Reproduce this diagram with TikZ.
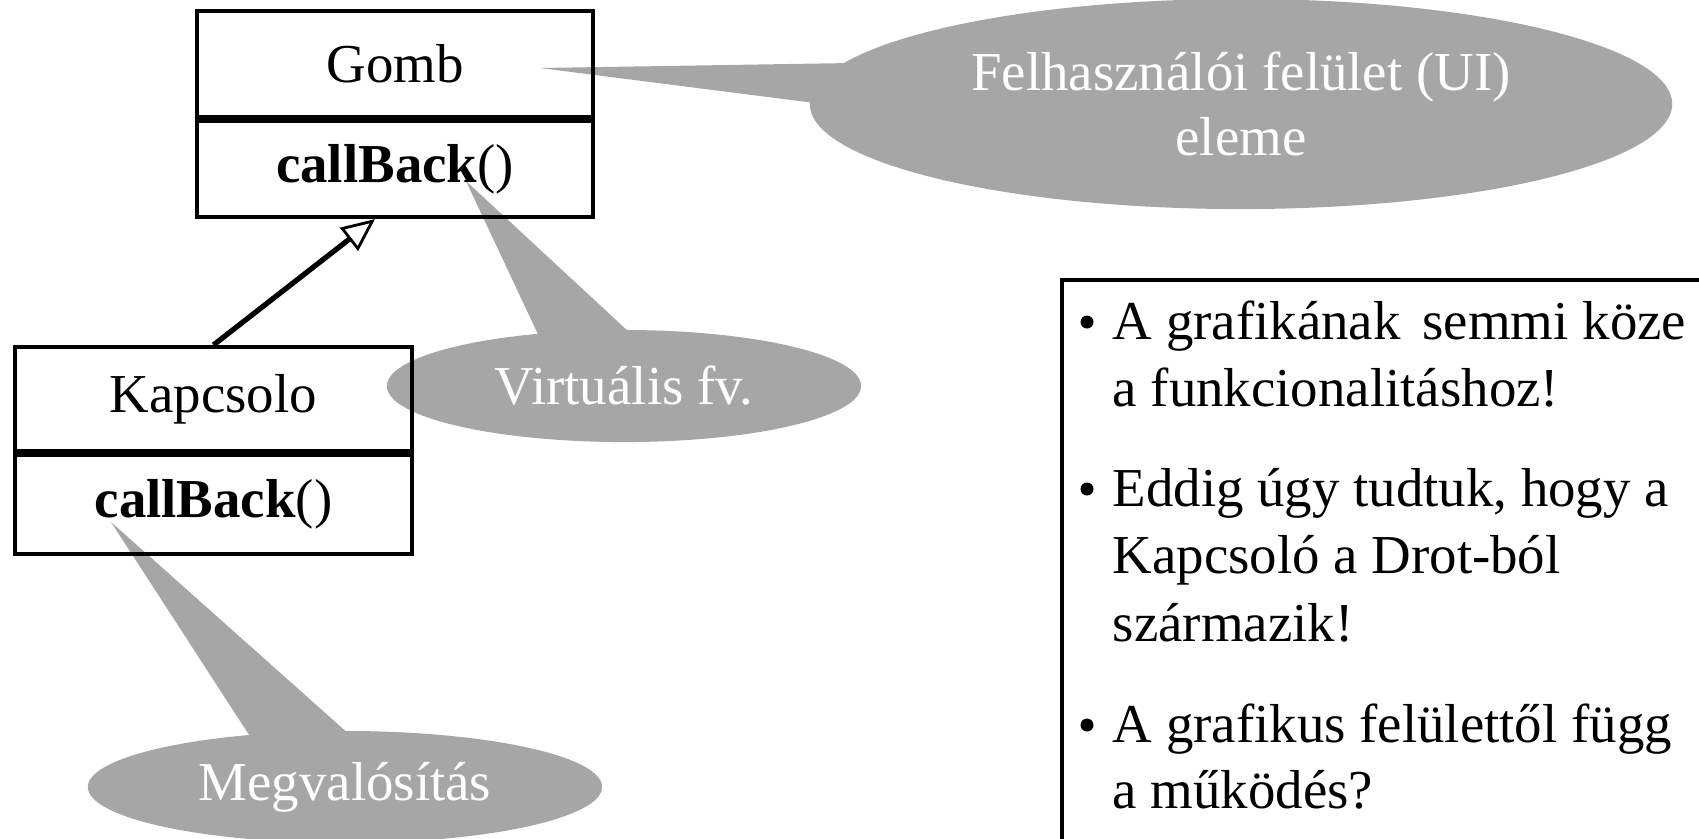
\documentclass[tikz,border=0pt]{standalone}
\usepackage{fontspec}
\setmainfont{Liberation Serif}
\usetikzlibrary{positioning,shapes.callouts,arrows.meta}
\definecolor{bubblegrey}{HTML}{A6A6A6}

\tikzset{
  classbox/.style={draw, line width=1.14pt, minimum width=3.96cm, inner sep=0pt},
  bubble/.style={ellipse callout, fill=bubblegrey, text=white, inner sep=0pt,
    align=center, callout pointer arc=22},
  notetext/.style={anchor=base west, inner sep=0pt},
  notedot/.style={circle, fill=black, inner sep=0pt, minimum size=0.13cm},
  inherits/.style={line width=1.5pt,
    -{Triangle[open, length=0.33cm, width=0.29cm, line width=0.8pt]}},
}

\begin{document}
\begin{tikzpicture}[x=0.01cm, y=-0.01cm, font=\fontsize{15.6}{18.5}\selectfont]

  \useasboundingbox (0,0) rectangle (1699,838);
  \clip (0,0) rectangle (1699,838);
  \fill[white] (0,0) rectangle (1699,838);

  % tips of the speech bubbles
  \coordinate (uitip) at (540,68);
  \coordinate (virttip) at (466,181);
  \coordinate (megtip) at (111,522);

  \node[bubble, minimum width=8.62cm, minimum height=2.1cm,
    callout absolute pointer={(uitip)}] (ui) at (1241,104)
    {Felhasználói felület (UI)\\eleme};
  \node[bubble, minimum width=4.74cm, minimum height=1.12cm,
    callout absolute pointer={(virttip)}] (virt) at (624,386) {Virtuális fv.};
  \node[bubble, minimum width=5.14cm, minimum height=1.12cm,
    callout absolute pointer={(megtip)}] (meg) at (345,787) {Megvalósítás};

  % classes
  \node[classbox, minimum height=1.06cm] (gomb) at (395,64) {Gomb};
  \node[classbox, minimum height=0.96cm, below=0pt of gomb] (gombop) {\textbf{callBack}()};
  \node[classbox, minimum height=1.04cm] (kap) at (213.5,399) {Kapcsolo};
  \node[classbox, minimum height=0.99cm, below=0pt of kap] (kapop) {\textbf{callBack}()};

  \coordinate (inhtip) at ([xshift=-0.2cm]gombop.south);
  \draw[inherits] (kap.north) -- (inhtip);

  % notes
  \draw[line width=1.14pt] (1062,280) rectangle (1760,900);

  \node[notetext] (l1) at (1112,339) {A grafikának\hspace{0.4em}semmi köze};
  \node[notetext] (l2) at (1112,406) {a funkcionalitáshoz!};
  \node[notetext] (l3) at (1112,506) {Eddig úgy tudtuk, hogy a};
  \node[notetext] (l4) at (1112,573) {Kapcsoló a Drot-ból};
  \node[notetext] (l5) at (1112,641) {származik!};
  \node[notetext] (l6) at (1112,742) {A grafikus felülettől függ};
  \node[notetext] (l7) at (1112,808) {a működés?};

  \node[notedot] (b1) at ([shift={(-25,-17)}]l1.base west) {};
  \node[notedot] (b2) at ([shift={(-25,-17)}]l3.base west) {};
  \node[notedot] (b3) at ([shift={(-25,-17)}]l6.base west) {};

\end{tikzpicture}
\end{document}
